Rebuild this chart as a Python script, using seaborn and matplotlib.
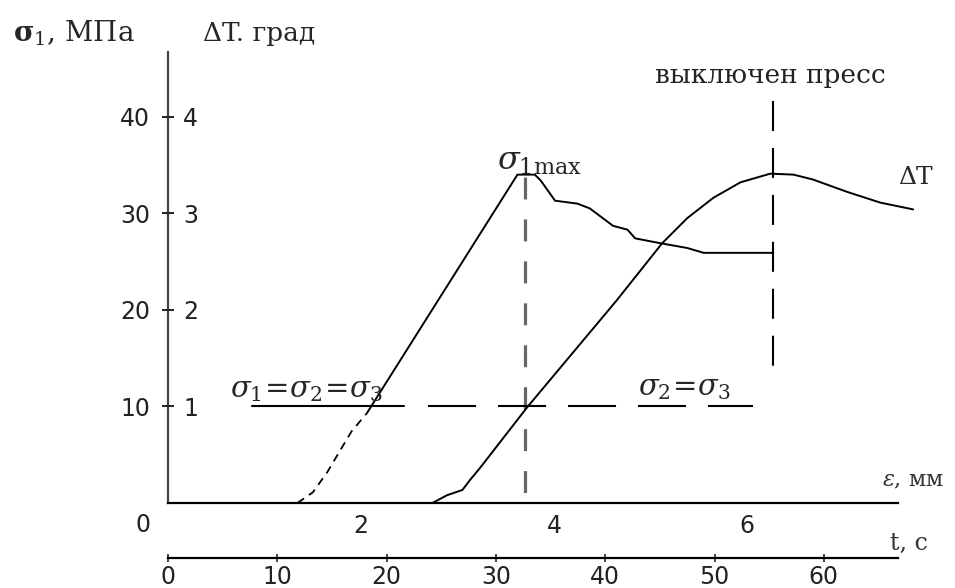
import numpy as np
import pandas as pd
import matplotlib
matplotlib.use("Agg")
import matplotlib.pyplot as plt
import seaborn as sns

# деформация s (мм) и напряжение sigma1 (МПа)
s_sig_dash = [1.34, 1.50, 1.65, 1.90, 2.06]
sig_dash = [0.0, 1.1, 3.2, 7.4, 9.3]
s_sig = [2.06, 3.62, 3.80, 3.86, 4.01, 4.24, 4.37, 4.61, 4.76, 4.84, 5.10, 5.38, 5.55, 6.27]
sig = [9.3, 34.0, 34.0, 33.4, 31.3, 31.0, 30.5, 28.7, 28.3, 27.4, 26.9, 26.4, 25.9, 25.9]

# ΔT (град)
s_dt = [2.74, 2.89, 3.05, 3.13, 3.23, 3.72, 4.65, 5.12, 5.38, 5.65, 5.93, 6.24, 6.48, 6.68, 7.04, 7.38, 7.72]
dt = [0.0, 0.08, 0.135, 0.24, 0.36, 0.99, 2.10, 2.69, 2.95, 3.16, 3.32, 3.41, 3.40, 3.35, 3.22, 3.11, 3.04]

s_max = 3.70       # sigma1 max
s_off = 6.27       # выключен пресс
sig_hydro = 10     # sigma1=sigma2=sigma3

sig_ticks = [10, 20, 30, 40]
dt_ticks = [1, 2, 3, 4]
s_ticks = [2, 4, 6]
t_ticks = [0, 10, 20, 30, 40, 50, 60]
k_t = 8.83   # с на мм

sns.set_style("white")
plt.rcParams["lines.scale_dashes"] = False
plt.rcParams["font.family"] = ["DejaVu Sans"]
plt.rcParams["mathtext.fontset"] = "dejavuserif"

fig = plt.figure(figsize=(9.55, 5.88), dpi=100)
ax = fig.add_axes([0.176, 0.1446, 0.764, 0.767])
ax.set_xlim(0, 7.56)
ax.set_ylim(0, 46.7)

ax2 = ax.twinx()
ax2.set_ylim(0, 4.67)

# кривые
sns.lineplot(x=s_sig_dash, y=sig_dash, ax=ax, color="black", linewidth=1.3,
             linestyle=(0, (5.8, 4.3)), sort=False, estimator=None)
sns.lineplot(x=s_sig, y=sig, ax=ax, color="black", linewidth=1.4, sort=False, estimator=None)
sns.lineplot(x=s_dt, y=dt, ax=ax2, color="black", linewidth=1.4, sort=False,
             estimator=None, clip_on=False)

# вспомогательные линии
ax.plot([s_max, s_max], [33.8, 0], color="#666666", linewidth=2.3,
        linestyle=(0, (15.8, 14.4)))
ax.plot([s_off, s_off], [41.6, 14.0], color="black", linewidth=1.5,
        linestyle=(0, (21.6, 12.2)))
ax.plot([0.87, 2.44], [sig_hydro, sig_hydro], color="black", linewidth=1.5)
ax.plot([2.69, 6.06], [sig_hydro, sig_hydro], color="black", linewidth=1.5,
        linestyle=(0, (34.6, 15.8)))

# оси
for a in (ax, ax2):
    for sp in ("top", "right", "left", "bottom"):
        a.spines[sp].set_visible(False)
ax.spines["left"].set_visible(True)
ax.spines["left"].set_color("#444444")
ax.spines["left"].set_linewidth(1.6)
ax.spines["bottom"].set_visible(True)
ax.spines["bottom"].set_color("black")
ax.spines["bottom"].set_linewidth(1.6)

ax.set_yticks(sig_ticks)
ax.set_yticklabels([str(v) for v in sig_ticks])
ax.tick_params(axis="y", direction="inout", length=8, width=1.2, pad=9,
               labelsize=17, colors="#222222")
ax.set_xticks(s_ticks)
ax.set_xticklabels([str(v) for v in s_ticks])
ax.tick_params(axis="x", direction="inout", length=6, width=1.2, pad=5,
               labelsize=17, colors="#222222")

ax2.spines["right"].set_position(("axes", 0))
ax2.set_yticks(dt_ticks)
ax2.set_yticklabels([str(v) for v in dt_ticks])
ax2.tick_params(axis="y", direction="inout", length=8, width=1.2, pad=7,
                labelsize=17, colors="#222222")

sec = ax.secondary_xaxis(-0.122, functions=(lambda s: s * k_t, lambda t: t / k_t))
sec.set_xticks(t_ticks)
sec.set_xticklabels([str(v) for v in t_ticks])
sec.tick_params(axis="x", direction="inout", length=6, width=1.2, pad=2,
                labelsize=17, colors="#222222")
sec.spines["bottom"].set_color("black")
sec.spines["bottom"].set_linewidth(1.6)

# подписи
fig.text(143 / 955, 1 - 525 / 588, "0", fontsize=17, ha="center", va="center", color="#222222")
fig.text(13 / 955, 1 - 33 / 588, r"$\mathbf{\sigma}_1$, МПа", fontsize=20, family="DejaVu Serif",
         ha="left", va="center")
fig.text(203 / 955, 1 - 33 / 588, "ΔT. град", fontsize=19, family="DejaVu Serif",
         ha="left", va="center")
fig.text(655 / 955, 1 - 75 / 588, "выключен пресс", fontsize=19, family="DejaVu Serif",
         ha="left", va="center", color="#222222")
fig.text(497 / 955, 1 - 162 / 588, r"$\sigma_{1\mathrm{max}}$", fontsize=23,
         ha="left", va="center")
fig.text(898 / 955, 1 - 178 / 588, "ΔT", fontsize=18, family="DejaVu Serif",
         ha="left", va="center")
fig.text(230 / 955, 1 - 390 / 588, r"$\sigma_1\!=\!\sigma_2\!=\!\sigma_3$", fontsize=21,
         ha="left", va="center")
fig.text(638 / 955, 1 - 388 / 588, r"$\sigma_2\!=\!\sigma_3$", fontsize=21,
         ha="left", va="center")
fig.text(882 / 955, 1 - 480 / 588, r"$\varepsilon$, мм", fontsize=16, family="DejaVu Serif",
         ha="left", va="center", color="#333333")
fig.text(890 / 955, 1 - 543 / 588, "t, с", fontsize=17, family="DejaVu Serif",
         ha="left", va="center", color="#333333")

fig.savefig("out.png", dpi=100)
